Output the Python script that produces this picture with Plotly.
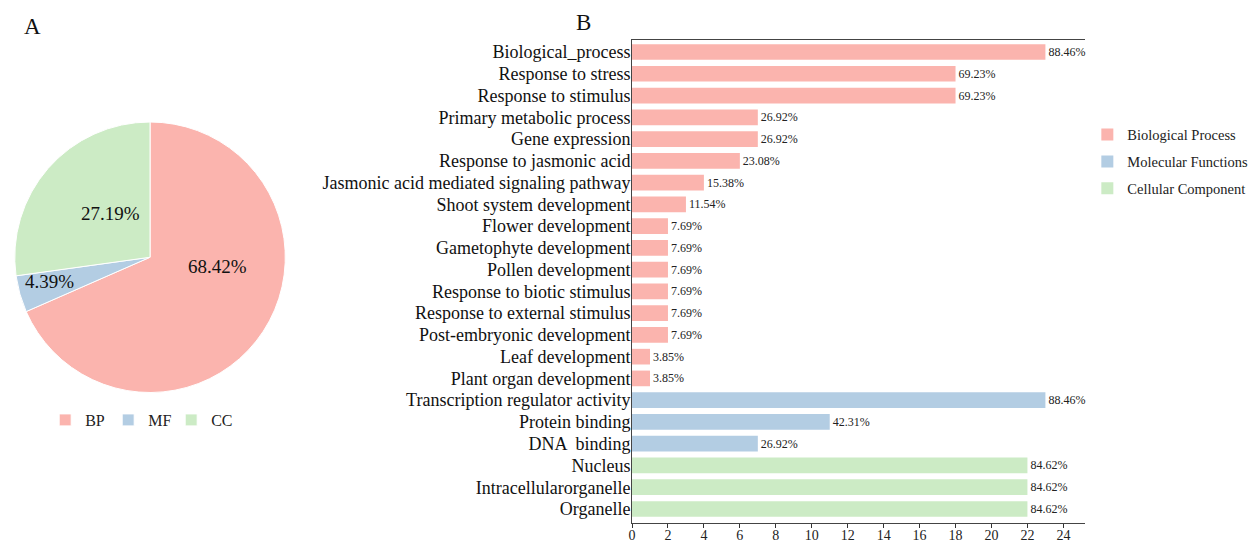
import plotly.graph_objects as go

# GO term counts (out of 26 genes) per category
bp_terms = ["Biological_process", "Response to stress", "Response to stimulus",
            "Primary metabolic process", "Gene expression", "Response to jasmonic acid",
            "Jasmonic acid mediated signaling pathway", "Shoot system development",
            "Flower development", "Gametophyte development", "Pollen development",
            "Response to biotic stimulus", "Response to external stimulus",
            "Post-embryonic development", "Leaf development", "Plant organ development"]
bp_counts = [23, 18, 18, 7, 7, 6, 4, 3, 2, 2, 2, 2, 2, 2, 1, 1]

mf_terms = ["Transcription regulator activity", "Protein binding", "DNA  binding"]
mf_counts = [23, 11, 7]

cc_terms = ["Nucleus", "Intracellularorganelle", "Organelle"]
cc_counts = [22, 22, 22]

total_genes = 26

# Pie: share of annotations per ontology
pie_labels = ["BP", "MF", "CC"]
pie_values = [78, 5, 31]

x_ticks = list(range(0, 25, 2))

COL_BP = "#FBB4AE"
COL_MF = "#B3CDE3"
COL_CC = "#CCEBC5"
FONT = "Liberation Serif, Times New Roman, serif"

fig = go.Figure()

# Pie percentages are written as annotations so they sit where the layout wants them
pie_total = sum(pie_values)
pie_text = [f"{v / pie_total * 100:.2f}%" for v in pie_values]

fig.add_trace(go.Pie(
    labels=pie_labels, values=pie_values,
    marker=dict(colors=[COL_BP, COL_MF, COL_CC], line=dict(color="white", width=1)),
    sort=False, direction="clockwise", rotation=0,
    textinfo="none",
    domain=dict(x=[0.0096, 0.2295], y=[0.2758, 0.7749]),
    legend="legend",
))

def pct(c):
    return [f"{v / total_genes * 100:.2f}%" for v in c]

for name, terms, counts, col in [
    ("Biological Process", bp_terms, bp_counts, COL_BP),
    ("Molecular Functions", mf_terms, mf_counts, COL_MF),
    ("Cellular Component", cc_terms, cc_counts, COL_CC),
]:
    fig.add_trace(go.Bar(
        x=counts, y=terms, orientation="h", name=name,
        marker=dict(color=col, line=dict(width=0)),
        text=pct(counts), textposition="outside", constraintext="none",
        textfont=dict(family=FONT, size=12, color="#222"),
        cliponaxis=False, legend="legend2", legendgroup=name,
    ))

all_terms = bp_terms + mf_terms + cc_terms
n = len(all_terms)

label_pos = [(217, 266), (49, 281), (110, 213)]  # BP, MF, CC label centres (px)
annotations = [
    dict(text=t, x=px / 1255, y=1 - py / 542, xref="paper", yref="paper",
         xanchor="center", yanchor="middle", showarrow=False,
         font=dict(family=FONT, size=19, color="#111"))
    for t, (px, py) in zip(pie_text, label_pos)
]
annotations += [
    dict(text="A", x=32 / 1255, y=1 - 27 / 542, xref="paper", yref="paper",
         xanchor="center", yanchor="middle", showarrow=False,
         font=dict(family=FONT, size=23, color="#111")),
    dict(text="B", x=583 / 1255, y=1 - 22 / 542, xref="paper", yref="paper",
         xanchor="center", yanchor="middle", showarrow=False,
         font=dict(family=FONT, size=23, color="#111")),
]

fig.update_layout(
    width=1255, height=542,
    margin=dict(l=0, r=0, t=0, b=0, autoexpand=False),
    paper_bgcolor="white", plot_bgcolor="white",
    font=dict(family=FONT, color="#111"),
    barmode="overlay", bargap=0.28,
    showlegend=True,
    xaxis=dict(domain=[0.5036, 0.8645], range=[0, 25.2], tickvals=x_ticks,
               ticks="outside", ticklen=4, tickcolor="#333",
               showline=True, linecolor="#444", linewidth=1, mirror=True,
               showgrid=False, zeroline=False, ticklabelstandoff=-5,
               tickfont=dict(family=FONT, size=14, color="#222"), automargin=False),
    yaxis=dict(domain=[1 - 523 / 542, 1 - 40 / 542], categoryorder="array",
               categoryarray=all_terms, range=[n - 1 + 0.645, -0.553],
               tickmode="array", tickvals=all_terms, ticktext=all_terms,
               showline=True, linecolor="#444", linewidth=1,
               showgrid=False, ticks="", ticklabelstandoff=-3,
               tickfont=dict(family=FONT, size=18, color="#111"), automargin=False),
    legend=dict(orientation="h", x=0.036, y=1 - 420 / 542, xanchor="left", yanchor="middle",
                font=dict(family=FONT, size=16, color="#222"), itemwidth=30, entrywidth=18,
                bgcolor="rgba(0,0,0,0)", traceorder="normal"),
    legend2=dict(x=0.8664, y=0.781, xanchor="left", yanchor="top",
                 font=dict(family=FONT, size=14.5, color="#222"), itemwidth=30,
                 bgcolor="rgba(0,0,0,0)", traceorder="grouped", tracegroupgap=5),
    annotations=annotations,
)

fig.write_html("out.html")
